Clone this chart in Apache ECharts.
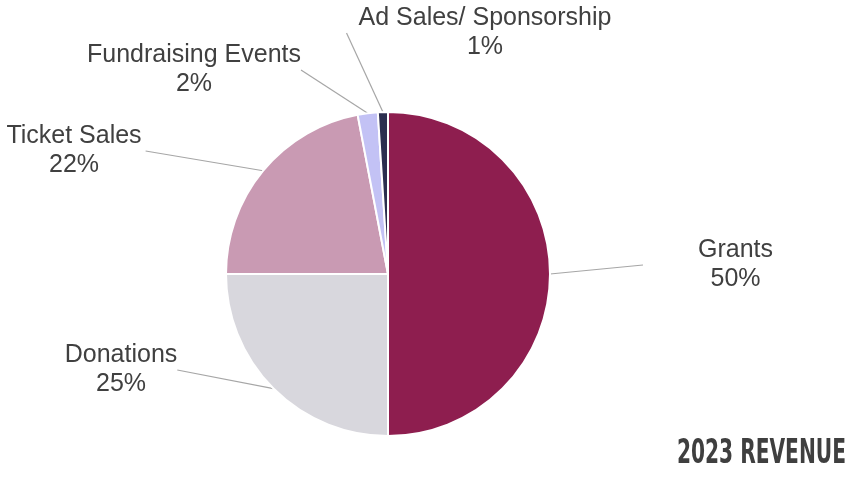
<!DOCTYPE html>
<html>
<head>
<meta charset="utf-8">
<script src="https://cdn.jsdelivr.net/npm/echarts@6/dist/echarts.min.js"></script>
<style>
html,body{margin:0;padding:0;background:#fff;}
#main{width:850px;height:478px;}
</style>
</head>
<body>
<div id="main"></div>
<script>
const categories = ['Grants', 'Donations', 'Ticket Sales', 'Fundraising Events', 'Ad Sales/ Sponsorship'];
const values = [50, 25, 22, 2, 1];
const colors = ['#8e1e4f', '#d8d7dd', '#c99ab3', '#c3c2f5', '#2c2e4f'];
const chartTitle = '2023 REVENUE';

// label block centers and padding (layout only)
const labelPos = [
  {x: 708, y: 265, pad: [0, 0, 0, 55]},
  {x: 121, y: 370, pad: 0},
  {x: 76, y: 151, pad: [0, 4, 0, 0]},
  {x: 194, y: 70, pad: 0},
  {x: 479, y: 33, pad: [0, 0, 0, 12]}
];

const chart = echarts.init(document.getElementById('main'), null, {renderer: 'canvas'});
chart.setOption({
  animation: false,
  backgroundColor: '#ffffff',
  graphic: [{
    type: 'text',
    right: 4,
    top: 437,
    scaleX: 0.66,
    originX: 846,
    style: {
      text: chartTitle,
      font: 'bold 34px "Liberation Sans Narrow", "DejaVu Sans Condensed", "Liberation Sans", sans-serif',
      fill: '#3f3f3f'
    }
  }],
  series: [{
    type: 'pie',
    center: [388, 274],
    radius: 162,
    startAngle: 90,
    clockwise: true,
    itemStyle: {borderColor: '#ffffff', borderWidth: 2},
    data: categories.map((c, i) => ({
      name: c, value: values[i],
      itemStyle: {color: colors[i]},
      label: {padding: labelPos[i].pad}
    })),
    label: {
      show: true,
      position: 'outside',
      formatter: '{b}\n{d}%',
      fontFamily: '"Liberation Sans", Arial, sans-serif',
      fontSize: 25,
      lineHeight: 29,
      color: '#404040',
      align: 'center'
    },
    labelLine: {
      show: true,
      length: 20,
      length2: 0,
      lineStyle: {color: '#a6a6a6', width: 1.2}
    },
    labelLayout: function (params) {
      const p = labelPos[params.dataIndex];
      return {x: p.x, y: p.y, align: 'center', verticalAlign: 'middle'};
    }
  }]
});
</script>
</body>
</html>
